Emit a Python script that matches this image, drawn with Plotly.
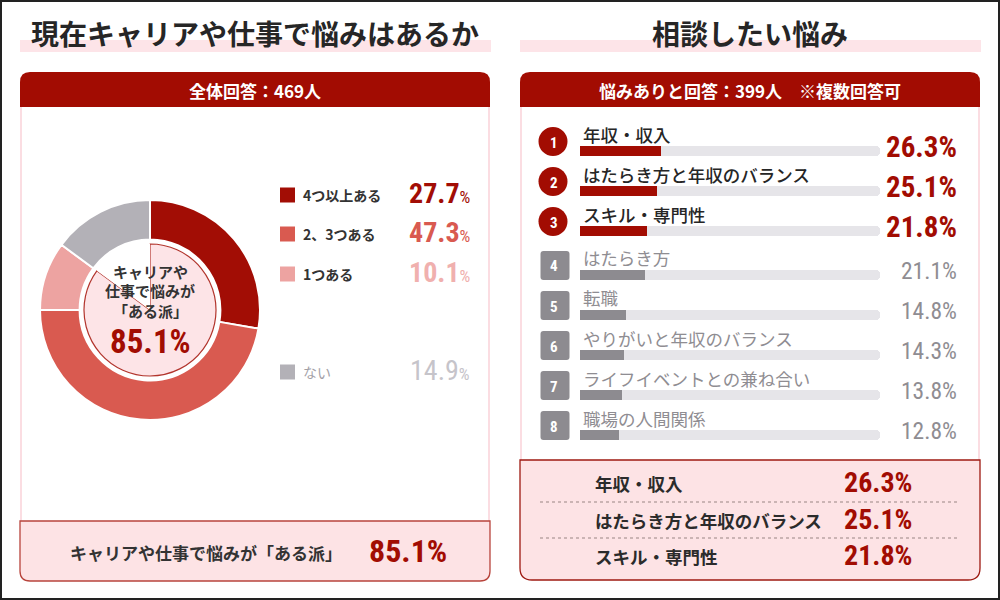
import plotly.graph_objects as go

W, H = 1000, 600

# ---------------- data ----------------
left_title = "現在キャリアや仕事で悩みはあるか"
right_title = "相談したい悩み"
total_n = 469
rank_n = 399

pie_labels = ["4つ以上ある", "2、3つある", "1つある", "ない"]
pie_values = [27.7, 47.3, 10.1, 14.9]
pie_colors = ["#a20d05", "#d95a50", "#eda3a1", "#b3b1b7"]
pie_value_colors = ["#a20d05", "#d95a50", "#f0b0ae", "#c6c4ca"]
aru_label = "キャリアや仕事で悩みが「ある派」"

rank_labels = ["年収・収入", "はたらき方と年収のバランス", "スキル・専門性", "はたらき方",
               "転職", "やりがいと年収のバランス", "ライフイベントとの兼ね合い", "職場の人間関係"]
rank_values = [26.3, 25.1, 21.8, 21.1, 14.8, 14.3, 13.8, 12.8]
top_n = 3

# ---------------- style ----------------
RED = "#a20c02"
GRAY = "#8d8b90"
TRACK = "#e6e5e9"
PINK_FILL = "#fde3e5"
PINK_LINE = "#fbdde2"
DARK = "#2b2b2b"
JP = "Noto Sans CJK JP, Noto Sans, sans-serif"
NUM = "Roboto Condensed, Open Sans Condensed, Liberation Sans Narrow, DejaVu Sans Condensed, sans-serif"

aru_share = round(sum(pie_values[:3]), 1)


def px(x):
    return x / W


def py(y):
    return 1 - y / H


def rrect(x0, y0, x1, y1, rtl=0, rtr=0, rbr=0, rbl=0):
    def p(x, y):
        return f"{px(x):.5f},{py(y):.5f}"
    return (f"M{p(x0 + rtl, y0)} L{p(x1 - rtr, y0)} Q{p(x1, y0)} {p(x1, y0 + rtr)} "
            f"L{p(x1, y1 - rbr)} Q{p(x1, y1)} {p(x1 - rbr, y1)} "
            f"L{p(x0 + rbl, y1)} Q{p(x0, y1)} {p(x0, y1 - rbl)} "
            f"L{p(x0, y0 + rtl)} Q{p(x0, y0)} {p(x0 + rtl, y0)} Z")


shapes = []
ann = []


def rect_path(path, fill, line=None, lw=0, layer="below"):
    shapes.append(dict(type="path", path=path, xref="paper", yref="paper",
                       fillcolor=fill, line=dict(color=line or fill, width=lw), layer=layer))


def text(x, y, s, size, color=DARK, family=JP, xanchor="center", yanchor="middle", weight=400):
    ann.append(dict(x=px(x), y=py(y), xref="paper", yref="paper", text=s, showarrow=False,
                    xanchor=xanchor, yanchor=yanchor,
                    font=dict(size=size, color=color, family=family, weight=weight)))


# outer frame
shapes.append(dict(type="rect", xref="paper", yref="paper", x0=px(1), x1=px(999), y0=py(599), y1=py(1),
                   line=dict(color="#222222", width=2), fillcolor="rgba(0,0,0,0)", layer="above"))

panels = [(20, 490, 521, 581, 10, "#b8443c"), (520, 980, 460, 580, 12, "#9e1a12")]
for (x0, x1, yb0, yb1, r, bcol) in panels:
    rect_path(rrect(x0, 40, x1 + 1, 52), "#fde4e8")
    rect_path(rrect(x0, 72, x1, 107, 10, 10, 0, 0), RED)
    for xx in (x0 + 1, x1 - 1):
        shapes.append(dict(type="line", xref="paper", yref="paper", x0=px(xx), x1=px(xx),
                           y0=py(107), y1=py(yb0), line=dict(color=PINK_LINE, width=2), layer="below"))
    rect_path(rrect(x0, yb0, x1, yb1, 0, 0, r, r), PINK_FILL, bcol, 1.3)

# titles and headers
text(255, 33, left_title, 28, "#262626", weight=700)
text(750, 33, right_title, 28, "#262626", weight=700)
text(255, 90, f"全体回答：{total_n}人", 17, "white", weight=700)
text(750, 90, f"悩みありと回答：{rank_n}人　※複数回答可", 17, "white", weight=700)

# ---------------- donut ----------------
cx, cy, R_out, R_in = 150, 310, 110, 66
fig = go.Figure()
fig.add_trace(go.Pie(
    labels=pie_labels, values=pie_values, sort=False, direction="clockwise", rotation=0,
    hole=0.64, textinfo="none", showlegend=False,
    marker=dict(colors=pie_colors, line=dict(color="white", width=2)),
    domain=dict(x=[px(cx - R_out), px(cx + R_out)], y=[py(cy + R_out), py(cy - R_out)]),
))
fig.add_trace(go.Pie(
    labels=["ある派", "ない"], values=[aru_share, round(100 - aru_share, 1)], sort=False,
    direction="clockwise", rotation=0, textinfo="none", showlegend=False,
    marker=dict(colors=["#fde4e7", "white"], line=dict(color=["#b2352d", "rgba(0,0,0,0)"], width=1.2)),
    domain=dict(x=[px(cx - R_in), px(cx + R_in)], y=[py(cy + R_in), py(cy - R_in)]),
))
center_lines = ["キャリアや", "仕事で悩みが", "「ある派」"]
for i, s in enumerate(center_lines):
    text(cx, 271 + 19.5 * i, s, 15, "#333333", weight=700)
text(cx, 341, f"{aru_share}%", 33, RED, NUM, weight=700)

# legend
leg_y = [195, 234, 274, 372]
for i, (lab, v) in enumerate(zip(pie_labels, pie_values)):
    y = leg_y[i]
    shapes.append(dict(type="rect", xref="paper", yref="paper", x0=px(280), x1=px(295),
                       y0=py(y + 7.5), y1=py(y - 7.5), fillcolor=pie_colors[i],
                       line=dict(width=0), layer="below"))
    is_none = (i == len(pie_labels) - 1)
    text(301, y, lab, 14, "#a3a1a7" if is_none else "#333333", xanchor="left",
         weight=400 if is_none else 700)
    text(472, y - 2, f"{v}<span style='font-size:17px;font-weight:400'>%</span>", 28,
         pie_value_colors[i], NUM, xanchor="right", weight=400 if is_none else 700)

# bottom left box
text(68, 552, aru_label, 17, "#333333", xanchor="left", weight=700)
text(367, 551, f"{aru_share}%", 32, RED, NUM, xanchor="left", weight=700)

# ---------------- ranking ----------------
bar_y = [151 + 40 * i + (4 if i >= top_n else 0) for i in range(len(rank_values))]
TRACK_MAX = 97.5
fig.add_trace(go.Bar(
    x=[TRACK_MAX] * len(rank_values), y=bar_y, orientation="h", width=10,
    marker=dict(color=TRACK, cornerradius=4, line=dict(width=0)),
    hoverinfo="skip", showlegend=False, xaxis="x", yaxis="y",
))
fig.add_trace(go.Bar(
    x=rank_values, y=bar_y, orientation="h", width=10, text=rank_labels,
    marker=dict(color=[RED if i < top_n else GRAY for i in range(len(rank_values))],
                cornerradius=4, line=dict(width=0)),
    textposition="none", hovertemplate="%{text}: %{x}%<extra></extra>", showlegend=False,
    xaxis="x", yaxis="y",
))

for i, (lab, v) in enumerate(zip(rank_labels, rank_values)):
    by = bar_y[i]
    top = i < top_n
    bc = by - 9.5
    if top:
        shapes.append(dict(type="circle", xref="paper", yref="paper", x0=px(553 - 14.5), x1=px(553 + 14.5),
                           y0=py(bc + 14.5), y1=py(bc - 14.5), fillcolor=RED, line=dict(width=0),
                           layer="below"))
    else:
        rect_path(rrect(540.5, bc - 14.5, 569.5, bc + 14.5, 3, 3, 3, 3), GRAY)
    text(554, bc + 1, f"{i + 1}", 15, "white", NUM, weight=700)
    text(581, by - 17, lab, 17.5, "#262626" if top else "#8f8d92", xanchor="left",
         weight=500 if top else 400)
    if top:
        text(959, by - 4, f"{v}%", 29, RED, NUM, xanchor="right", weight=700)
    else:
        text(959, by - 4, f"{v}%", 23.5, "#8f8d92", NUM, xanchor="right", weight=400)

# bottom right box: top items
row_y = [483, 520, 556]
for i in range(top_n):
    text(593, row_y[i], rank_labels[i], 17.5, "#2b2b2b", xanchor="left", weight=700)
    text(842, row_y[i] - 1, f"{rank_values[i]}%", 28, RED, NUM, xanchor="left", weight=700)
for yy in (502, 538):
    shapes.append(dict(type="line", xref="paper", yref="paper", x0=px(540), x1=px(960),
                       y0=py(yy), y1=py(yy), line=dict(color="#9a8584", width=1.2, dash="dot"),
                       layer="below"))

fig.update_layout(
    width=W, height=H, margin=dict(l=0, r=0, t=0, b=0),
    paper_bgcolor="white", plot_bgcolor="rgba(0,0,0,0)",
    barmode="overlay", bargap=0,
    xaxis=dict(domain=[px(580), px(880)], range=[0, TRACK_MAX], visible=False, fixedrange=True),
    yaxis=dict(domain=[0, 1], range=[H, 0], visible=False, fixedrange=True),
    shapes=shapes, annotations=ann, font=dict(family=JP),
)

fig.write_html("out.html")
